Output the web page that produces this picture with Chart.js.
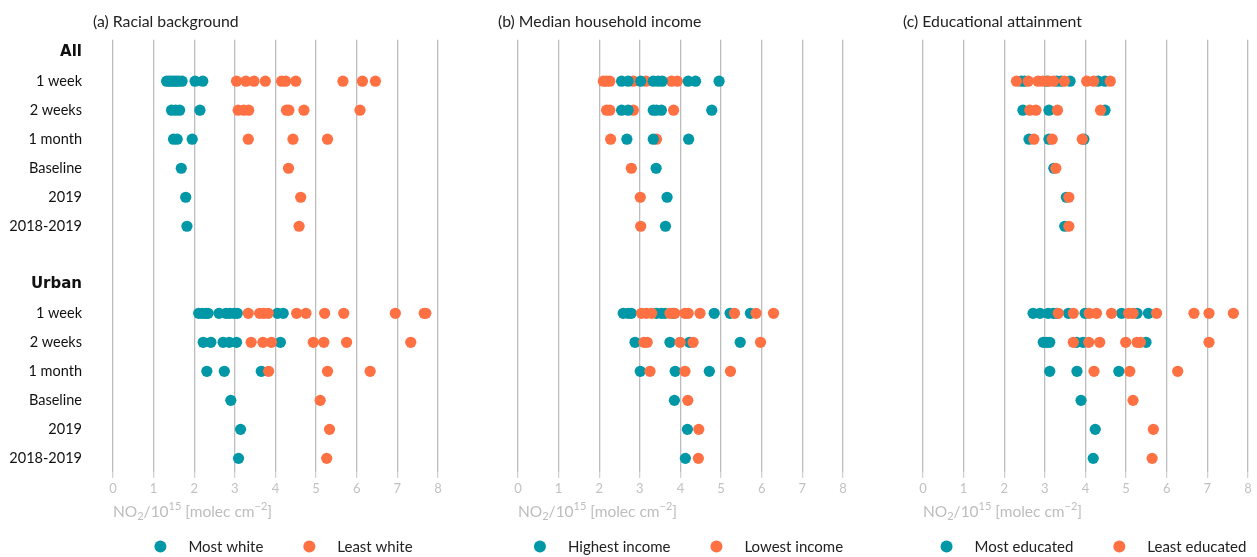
<!DOCTYPE html>
<html>
<head>
<meta charset="utf-8">
<script src="https://cdn.jsdelivr.net/npm/chart.js@4/dist/chart.umd.min.js"></script>
<style>
  html, body { margin: 0; padding: 0; background: #fff; }
  #wrap { position: relative; width: 1257px; height: 557px; overflow: hidden; }
  #wrap canvas { position: absolute; top: 0; }
</style>
</head>
<body>
<div id="wrap">
  <canvas id="race" width="445" height="557" style="left:0px"></canvas>
  <canvas id="income" width="445" height="557" style="left:405px"></canvas>
  <canvas id="edu" width="445" height="557" style="left:810px"></canvas>
</div>
<script>
// Row labels of the dot plot (top to bottom); blank row separates the two groups
const rowLabels = ['All', '1 week', '2 weeks', '1 month', 'Baseline', '2019', '2018-2019', '',
                   'Urban', '1 week', '2 weeks', '1 month', 'Baseline', '2019', '2018-2019'];
const headerRows = [0, 8];
const allOffset = 1;     // first period row under "All"
const urbanOffset = 9;   // first period row under "Urban"
const xTickValues = [0, 1, 2, 3, 4, 5, 6, 7, 8];

// NO2 columns (10^15 molec cm^-2); each list holds one array per period:
// 1 week, 2 weeks, 1 month, Baseline, 2019, 2018-2019

// (a) Racial background
const mostWhiteAll = [
  [1.32, 1.38, 1.44, 1.50, 1.56, 1.62, 1.70, 2.02, 2.21],
  [1.44, 1.54, 1.64, 2.14],
  [1.49, 1.58, 1.95],
  [1.68], [1.79], [1.82]
];
const leastWhiteAll = [
  [3.04, 3.27, 3.47, 3.75, 4.15, 4.25, 4.50, 5.66, 6.14, 6.46],
  [3.08, 3.22, 3.34, 4.27, 4.33, 4.70, 6.08],
  [3.33, 4.43, 5.28],
  [4.32], [4.62], [4.58]
];
const mostWhiteUrban = [
  [2.11, 2.20, 2.28, 2.34, 2.61, 2.78, 2.87, 2.98, 3.06, 4.05, 4.19],
  [2.22, 2.41, 2.71, 2.86, 3.04, 4.12],
  [2.31, 2.74, 3.65],
  [2.90], [3.14], [3.09]
];
const leastWhiteUrban = [
  [3.33, 3.61, 3.71, 3.82, 4.52, 4.75, 5.21, 5.68, 6.95, 7.66, 7.70],
  [3.40, 3.69, 3.90, 4.93, 5.19, 5.75, 7.33],
  [3.83, 5.28, 6.33],
  [5.10], [5.33], [5.26]
];

// (b) Median household income
const highIncomeAll = [
  [2.55, 2.71, 3.02, 3.33, 3.45, 3.55, 4.19, 4.37, 4.95],
  [2.55, 2.71, 3.33, 3.41, 3.53, 4.77],
  [2.68, 3.33, 4.20],
  [3.40], [3.67], [3.63]
];
const lowIncomeAll = [
  [2.10, 2.18, 2.26, 2.84, 3.15, 3.78, 3.92],
  [2.18, 2.26, 2.84, 3.83],
  [2.28, 3.41],
  [2.79], [3.01], [3.02]
];
const highIncomeUrban = [
  [2.59, 2.71, 2.79, 3.41, 3.53, 3.62, 3.82, 4.83, 5.22, 5.72],
  [2.88, 3.74, 4.22, 5.47],
  [3.01, 3.87, 4.71],
  [3.85], [4.17], [4.12]
];
const lowIncomeUrban = [
  [3.04, 3.16, 3.29, 3.74, 3.86, 4.11, 4.19, 4.48, 5.33, 5.86, 6.29],
  [3.10, 3.18, 3.99, 4.31, 5.97],
  [3.25, 4.11, 5.23],
  [4.18], [4.45], [4.44]
];

// (c) Educational attainment
const mostEducatedAll = [
  [2.42, 2.50, 3.05, 3.29, 3.40, 3.62, 4.31, 4.48],
  [2.46, 3.10, 4.48],
  [2.61, 3.10, 3.96],
  [3.22], [3.53], [3.49]
];
const leastEducatedAll = [
  [2.30, 2.59, 2.83, 2.95, 3.10, 3.21, 3.48, 4.03, 4.20, 4.61],
  [2.63, 2.78, 3.31, 4.37],
  [2.73, 3.18, 3.92],
  [3.27], [3.59], [3.59]
];
const mostEducatedUrban = [
  [2.71, 2.88, 3.08, 3.21, 3.29, 3.58, 3.99, 4.89, 5.27, 5.55],
  [2.96, 3.04, 3.12, 3.78, 3.94, 5.49],
  [3.12, 3.79, 4.82],
  [3.89], [4.24], [4.19]
];
const leastEducatedUrban = [
  [3.33, 3.70, 4.09, 4.27, 4.64, 5.06, 5.17, 5.75, 6.67, 7.04, 7.64],
  [3.70, 4.08, 4.35, 4.99, 5.27, 5.35, 7.04],
  [4.21, 5.09, 6.27],
  [5.17], [5.67], [5.64]
];

const TEAL = '#0097a7';
const ORANGE = '#ff7043';
const FONT = 'Lato, "Open Sans", "DejaVu Sans", sans-serif';
const HEAD_FONT = '"DejaVu Sans", Lato, sans-serif';

function toPoints(rows, offset) {
  return rows.flatMap((vals, p) => vals.map(v => ({ x: v, y: p + offset })));
}

// Heading above each panel, axis caption with sub/superscripts, and the key below
const panelNotes = {
  id: 'panelNotes',
  afterDraw(chart, args, opts) {
    const ctx = chart.ctx;
    const area = chart.chartArea;
    ctx.save();
    ctx.textBaseline = 'alphabetic';
    ctx.textAlign = 'left';

    // heading
    ctx.fillStyle = '#222';
    ctx.font = `15.8px ${FONT}`;
    ctx.fillText(opts.heading, area.left - 20, 26.5);

    // axis caption
    const base = 516.5;
    const parts = [
      { t: 'NO', s: 15.5, dy: 0 },
      { t: '2', s: 11, dy: 3.5 },
      { t: '/10', s: 15.5, dy: 0 },
      { t: '15', s: 11, dy: -6.5 },
      { t: ' [molec cm', s: 15.5, dy: 0 },
      { t: '\u22122', s: 11, dy: -6.5 },
      { t: ']', s: 15.5, dy: 0 }
    ];
    ctx.fillStyle = '#bdbdbd';
    let cx = area.left;
    parts.forEach(p => {
      ctx.font = `${p.s}px ${FONT}`;
      ctx.fillText(p.t, cx, base + p.dy);
      cx += ctx.measureText(p.t).width;
    });

    // key: one entry per series (first two datasets)
    const items = chart.data.datasets.slice(0, 2).map(d => ({ text: d.label, color: d.backgroundColor }));
    ctx.font = `15px ${FONT}`;
    const r = 6, textGap = 28, itemGap = 46;
    const widths = items.map(it => ctx.measureText(it.text).width);
    let total = r;
    widths.forEach((w, i) => { total += textGap + w + (i < widths.length - 1 ? itemGap : 0); });
    const centre = (area.left + area.right) / 2 + 8;
    let mx = centre - total / 2 + r;
    const ky = 546.5;
    items.forEach((it, i) => {
      ctx.beginPath();
      ctx.arc(mx, ky, r, 0, Math.PI * 2);
      ctx.fillStyle = it.color;
      ctx.fill();
      ctx.fillStyle = '#222';
      ctx.fillText(it.text, mx + textGap, ky + 5);
      mx += textGap + widths[i] + itemGap;
    });
    ctx.restore();
  }
};

const panels = [
  { id: 'race', heading: '(a) Racial background', names: ['Most white', 'Least white'],
    all: [mostWhiteAll, leastWhiteAll], urban: [mostWhiteUrban, leastWhiteUrban],
    rowText: true, tealOverAll: false },
  { id: 'income', heading: '(b) Median household income', names: ['Highest income', 'Lowest income'],
    all: [highIncomeAll, lowIncomeAll], urban: [highIncomeUrban, lowIncomeUrban],
    rowText: false, tealOverAll: true },
  { id: 'edu', heading: '(c) Educational attainment', names: ['Most educated', 'Least educated'],
    all: [mostEducatedAll, leastEducatedAll], urban: [mostEducatedUrban, leastEducatedUrban],
    rowText: false, tealOverAll: false }
];

function dotSet(label, color, data, order) {
  return {
    label, data, order,
    backgroundColor: color,
    borderWidth: 0,
    pointRadius: 5.6,
    pointHoverRadius: 5.6,
    showLine: false
  };
}

panels.forEach(p => {
  const datasets = [
    dotSet(p.names[0], TEAL, toPoints(p.all[0], allOffset), p.tealOverAll ? 1 : 2),
    dotSet(p.names[1], ORANGE, toPoints(p.all[1], allOffset), p.tealOverAll ? 2 : 1),
    dotSet(p.names[0], TEAL, toPoints(p.urban[0], urbanOffset), 4),
    dotSet(p.names[1], ORANGE, toPoints(p.urban[1], urbanOffset), 3)
  ];

  new Chart(document.getElementById(p.id), {
    type: 'scatter',
    data: { datasets },
    plugins: [panelNotes],
    options: {
      responsive: false,
      animation: false,
      devicePixelRatio: 1,
      events: [],
      layout: { padding: { top: 30.4, bottom: 35, left: 0, right: 7 } },
      plugins: {
        legend: { display: false },
        tooltip: { enabled: false },
        panelNotes: { heading: p.heading }
      },
      scales: {
        x: {
          type: 'linear',
          min: xTickValues[0],
          max: xTickValues[xTickValues.length - 1],
          border: { display: false },
          grid: { color: '#bdbdbd', lineWidth: 1.3, tickLength: 6, tickColor: '#d2d2d2' },
          afterBuildTicks: s => { s.ticks = xTickValues.map(v => ({ value: v })); },
          ticks: { color: '#c2c2c2', font: { family: FONT, size: 13 }, padding: 3 },
          afterFit: s => { s.height = 50; }
        },
        y: {
          type: 'linear',
          reverse: true,
          min: -0.43,
          max: rowLabels.length - 0.53,
          border: { display: false },
          grid: { display: false, drawTicks: false },
          afterBuildTicks: s => { s.ticks = rowLabels.map((_, i) => ({ value: i })); },
          afterFit: s => { s.width = 113; },
          ticks: {
            autoSkip: false,
            padding: 31,
            color: '#111',
            callback: v => (p.rowText ? rowLabels[v] : ''),
            font: c => (c.tick && headerRows.includes(c.tick.value))
              ? { family: HEAD_FONT, size: 15, weight: 'bold' }
              : { family: FONT, size: 14.5 }
          }
        }
      }
    }
  });
});
</script>
</body>
</html>
